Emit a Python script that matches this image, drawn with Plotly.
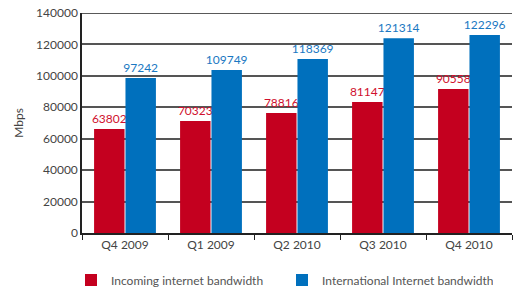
import plotly.graph_objects as go

categories = ["Q4 2009", "Q1 2009", "Q2 2010", "Q3 2010", "Q4 2010"]
# bar heights as drawn in the picture
incoming_heights = [66200, 71300, 76400, 83400, 91600]
international_heights = [98600, 103700, 110700, 124000, 126000]
# printed value labels
incoming_labels = ["63802", "70323", "78816", "81147", "90558"]
international_labels = ["97242", "109749", "118369", "121314", "122296"]

RED = "#c4001f"
BLUE = "#0070bd"
FONT = "Lato, 'Open Sans', sans-serif"

W, H = 514, 290

fig = go.Figure()
fig.add_trace(go.Bar(
    x=categories, y=incoming_heights, name="Incoming internet bandwidth",
    marker=dict(color=RED, line=dict(width=0)),
    text=incoming_labels, textposition="outside", constraintext="none",
    textfont=dict(color="#d0102e", size=12, family=FONT),
    cliponaxis=False,
))
fig.add_trace(go.Bar(
    x=categories, y=international_heights, name="International Internet bandwidth",
    marker=dict(color=BLUE, line=dict(width=0)),
    text=international_labels, textposition="outside", constraintext="none",
    textfont=dict(color="#1a78c2", size=12, family=FONT),
    cliponaxis=False,
))

fig.update_layout(
    width=W, height=H,
    margin=dict(l=82, r=2, t=13, b=57, autoexpand=False),
    paper_bgcolor="white", plot_bgcolor="white",
    barmode="group", bargap=0.27, bargroupgap=0.03,
    font=dict(family=FONT, size=12, color="#444444"),
    showlegend=True,
    legend=dict(orientation="h", xref="container", yref="container",
                x=71 / W, xanchor="left", y=10 / H, yanchor="middle",
                font=dict(size=12, color="#555555"), entrywidth=166,
                itemwidth=30, bgcolor="rgba(0,0,0,0)"),
)
fig.update_yaxes(
    range=[0, 140000], dtick=20000, tickformat="d",
    showgrid=True, gridcolor="#555555", gridwidth=1.5,
    showline=True, linecolor="#222222", linewidth=1.5,
    ticks="", tickfont=dict(size=12, color="#444444"),
    title=dict(text="Mbps", font=dict(size=12, color="#444444"), standoff=10),
    zeroline=False, automargin=False,
)
fig.update_xaxes(
    showline=True, linecolor="#222222", linewidth=1.5,
    ticks="outside", tickson="boundaries", ticklen=5, tickcolor="#222222",
    tickfont=dict(size=12, color="#444444"),
    showgrid=False, automargin=False,
)
fig.add_shape(type="line", xref="paper", yref="y", x0=0, x1=1, y0=140000, y1=140000,
              line=dict(color="#222222", width=1.5))

fig.write_html(
    "out.html",
    config={"displayModeBar": False},
    post_script="document.body.style.margin='0';document.body.style.overflow='hidden';",
)
